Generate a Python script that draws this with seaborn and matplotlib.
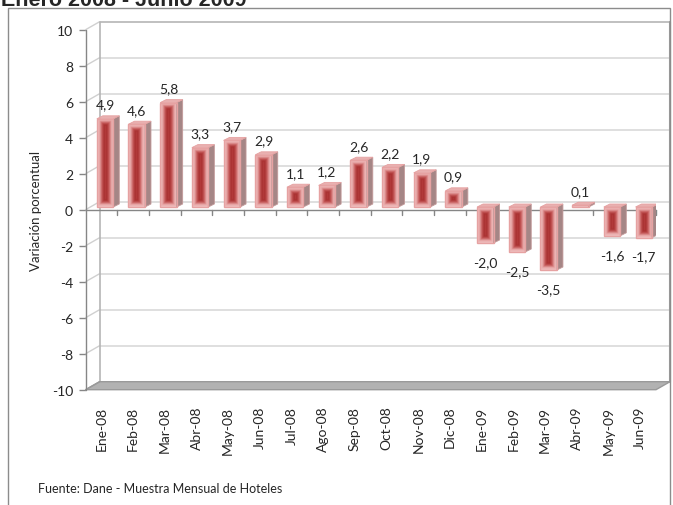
import numpy as np
import pandas as pd
import matplotlib
matplotlib.use("Agg")
import matplotlib.pyplot as plt
import seaborn as sns
from matplotlib.colors import LinearSegmentedColormap
from matplotlib.patches import Polygon, Rectangle

# datos
meses = ["Ene-08", "Feb-08", "Mar-08", "Abr-08", "May-08", "Jun-08", "Jul-08",
         "Ago-08", "Sep-08", "Oct-08", "Nov-08", "Dic-08", "Ene-09", "Feb-09",
         "Mar-09", "Abr-09", "May-09", "Jun-09"]
variacion = [4.9, 4.6, 5.8, 3.3, 3.7, 2.9, 1.1, 1.2, 2.6, 2.2, 1.9, 0.9,
             -2.0, -2.5, -3.5, 0.1, -1.6, -1.7]
y_ticks = list(range(-10, 11, 2))

titulo = "Enero 2008 - Junio 2009"
fuente = "Fuente: Dane - Muestra Mensual de Hoteles"

sns.set_theme(style="white")
plt.rcParams["font.family"] = ["Lato", "DejaVu Sans"]

W, H = 673, 506
fig = plt.figure(figsize=(W / 100, H / 100), dpi=100)
ax = fig.add_axes([85.6 / W, 1 - 390.7 / H, 570.4 / W, 360 / H])

df = pd.DataFrame({"mes": meses, "var": variacion})
sns.barplot(data=df, x="mes", y="var", width=0.52, color="#c0504d",
            saturation=1, ax=ax, zorder=4)

# escalas en pixeles
px_cat = 570.4 / 18
px_val = 18.0
dxb, dyb = 14 / px_cat, 8 / px_val      # profundidad de la pared
sx, sy = 3.6 / px_cat, 0.15             # desplazamiento de la barra
ddx, ddy = 6 / px_cat, 3 / px_val       # profundidad de la barra

cmap = LinearSegmentedColormap.from_list(
    "barra", [(0, "#f2c4c4"), (0.3, "#e8a8a8"), (0.6, "#c45858"),
              (0.85, "#a83030"), (1.0, "#b43c3c")])

gris = "#868686"
# pared de fondo
for y in y_ticks[1:]:
    c = "#d9d9d9" if y < 10 else "#b5b5b5"
    ax.plot([-0.5 + dxb, 17.5 + dxb], [y + dyb, y + dyb], color=c, lw=1.2,
            zorder=1, clip_on=False)
    ax.plot([-0.5, -0.5 + dxb], [y, y + dyb], color="#d0d0d0", lw=1,
            zorder=1, clip_on=False)
ax.plot([-0.5 + dxb] * 2, [-10 + dyb, 10 + dyb], color="#b5b5b5", lw=1.2,
        zorder=1, clip_on=False)
ax.plot([17.5 + dxb] * 2, [-10 + dyb, 10 + dyb], color="#9a9a9a", lw=1.5,
        zorder=1, clip_on=False)
# piso
ax.add_patch(Polygon([(-0.5, -10), (17.5, -10), (17.5 + dxb, -10 + dyb),
                      (-0.5 + dxb, -10 + dyb)], closed=True, fc="#b2b2b2",
                     ec="#9a9a9a", lw=1, zorder=2, clip_on=False))
ax.plot([-0.5, -0.5 + dxb], [-10, -10 + dyb], color="#9a9a9a", lw=1,
        zorder=2, clip_on=False)
# eje del cero
ax.plot([-0.5, 17.5], [0, 0], color=gris, lw=1, zorder=2, clip_on=False)
for k in range(1, 19):
    ax.plot([k - 0.5, k - 0.5], [0, -0.28], color=gris, lw=1, zorder=2,
            clip_on=False)
ax.plot([-0.5, -0.5], [-10, 10], color=gris, lw=1, zorder=2, clip_on=False)

for p, v in zip(ax.patches, variacion):
    p.set_x(p.get_x() + sx)
    p.set_y(p.get_y() + sy)
    x0, w = p.get_x(), p.get_width()
    yb, yt = sorted([p.get_y(), p.get_y() + p.get_height()])
    wpx, hpx = w * px_cat, max((yt - yb) * px_val, 0.5)
    nx, ny = 60, max(int(hpx * 3), 2)
    xs = (np.arange(nx) + 0.5) / nx * wpx
    ys = (np.arange(ny) + 0.5) / ny * hpx
    d = np.minimum(np.minimum(xs, wpx - xs)[None, :],
                   np.minimum(ys, hpx - ys)[:, None])
    t = np.clip(d / (wpx / 2), 0, 1)
    im = ax.imshow(t, cmap=cmap, vmin=0, vmax=1, extent=(x0, x0 + w, yb, yt),
                   aspect="auto", origin="lower", interpolation="bilinear",
                   zorder=3)
    im.set_clip_path(p)
    p.set_facecolor("none")
    p.set_edgecolor("#e6a2a2")
    p.set_linewidth(1)
    # cara lateral y superior
    ax.add_patch(Polygon([(x0 + w, yb), (x0 + w, yt), (x0 + w + ddx, yt + ddy),
                          (x0 + w + ddx, yb + ddy)], closed=True, fc="#a58686",
                         ec="#c49a9a", lw=0.6, zorder=3))
    ax.add_patch(Polygon([(x0, yt), (x0 + w, yt), (x0 + w + ddx, yt + ddy),
                          (x0 + ddx, yt + ddy)], closed=True, fc="#e9b0b0",
                         ec="#e6a2a2", lw=0.6, zorder=3))
    txt = f"{v:.1f}".replace(".", ",")
    if v >= 0:
        ax.text(x0 + w / 2, yt + 0.8, txt, ha="center", va="center",
                fontsize=10, zorder=5)
    else:
        ax.text(x0 + w / 2, yb - 1.05, txt, ha="center", va="center",
                fontsize=10, zorder=5)

for s in ax.spines.values():
    s.set_visible(False)
ax.set_xlim(-0.5, 17.5)
ax.set_ylim(-10, 10)
ax.set_yticks(y_ticks)
ax.set_yticklabels([str(y) for y in y_ticks])
ax.set_xticks(range(len(meses)))
ax.set_xticklabels(meses, rotation=90)
ax.tick_params(axis="x", length=0, pad=11.5, labelsize=10)
ax.tick_params(axis="y", left=True, direction="out", length=5, width=1,
               color=gris, pad=4, labelsize=10)
ax.set_xlabel("")
ax.set_ylabel("Variación porcentual", fontsize=9.5, labelpad=7)
ax.set_facecolor("none")

# titulo cortado arriba, como en el original
fig.text(0.001, 1 - 6 / H, titulo, fontsize=15.5, fontweight="bold",
         family=["Liberation Sans", "DejaVu Sans"], va="baseline")
fig.text(38 / W, 1 - 493 / H, fuente, fontsize=9, va="baseline")
fig.add_artist(Rectangle((8 / W, -0.02), (670 - 8) / W, 1 - 9 / H + 0.02,
                         transform=fig.transFigure, fill=False, ec="#8c8c8c",
                         lw=1))

fig.savefig("out.png", dpi=100)
